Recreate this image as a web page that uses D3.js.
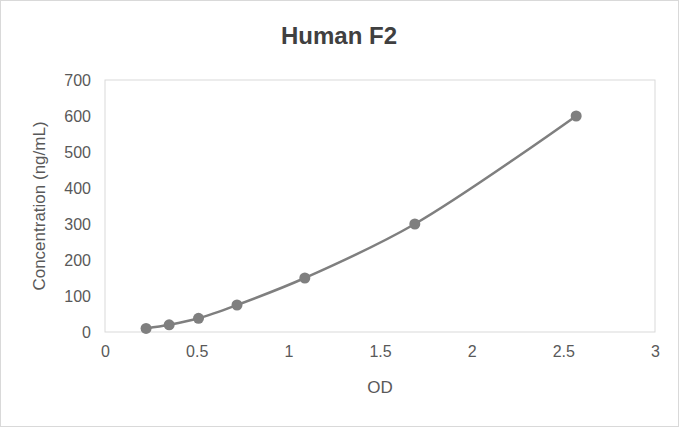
<!DOCTYPE html>
<html><head><meta charset="utf-8">
<script src="https://cdn.jsdelivr.net/npm/d3@7"></script>
<style>body{margin:0;background:#fff}svg{display:block}</style>
</head><body>
<script>
const od = [0.224, 0.35, 0.51, 0.72, 1.09, 1.69, 2.57];
const conc = [10, 20, 38, 75, 150, 300, 600];
const xTicks = [0, 0.5, 1, 1.5, 2, 2.5, 3];
const yTicks = [0, 100, 200, 300, 400, 500, 600, 700];

const W = 679, H = 427;
const svg = d3.select("body").append("svg").attr("width", W).attr("height", H);
svg.append("rect").attr("x",0.5).attr("y",0.5).attr("width",W-1).attr("height",H-1)
  .attr("fill","#fff").attr("stroke","#d9d9d9");
const x = d3.scaleLinear().domain([0,3]).range([105,655]);
const y = d3.scaleLinear().domain([0,700]).range([332,80]);
svg.append("rect").attr("x",105).attr("y",80).attr("width",550).attr("height",252)
  .attr("fill","none").attr("stroke","#d9d9d9");
const font = "Liberation Sans, Arial, sans-serif";
const xa = svg.append("g").attr("transform","translate(0,332)")
  .call(d3.axisBottom(x).tickValues(xTicks).tickFormat(d3.format("~g")).tickSize(0).tickPadding(14));
const ya = svg.append("g").attr("transform","translate(105,0)")
  .call(d3.axisLeft(y).tickValues(yTicks).tickSize(0).tickPadding(14));
[xa,ya].forEach(a=>{a.select(".domain").remove();
  a.selectAll("text").attr("fill","#595959").style("font-family",font).style("font-size","16px");});
const data = od.map((d,i)=>[d,conc[i]]);
svg.append("path").datum(data).attr("fill","none").attr("stroke","#7f7f7f").attr("stroke-width",2.5)
  .attr("d", d3.line().x(d=>x(d[0])).y(d=>y(d[1])).curve(d3.curveCatmullRom));
svg.selectAll("circle").data(data).join("circle").attr("cx",d=>x(d[0])).attr("cy",d=>y(d[1]))
  .attr("r",5.5).attr("fill","#7f7f7f");
svg.append("text").attr("x",339).attr("y",44).attr("text-anchor","middle")
  .style("font-family",font).style("font-size","24px").style("font-weight","bold").attr("fill","#404040").text("Human F2");
svg.append("text").attr("x",380).attr("y",393).attr("text-anchor","middle")
  .style("font-family",font).style("font-size","17px").attr("fill","#595959").text("OD");
svg.append("text").attr("transform","translate(45,206) rotate(-90)").attr("text-anchor","middle")
  .style("font-family",font).style("font-size","17px").attr("fill","#595959").text("Concentration (ng/mL)");
</script>
</body></html>
